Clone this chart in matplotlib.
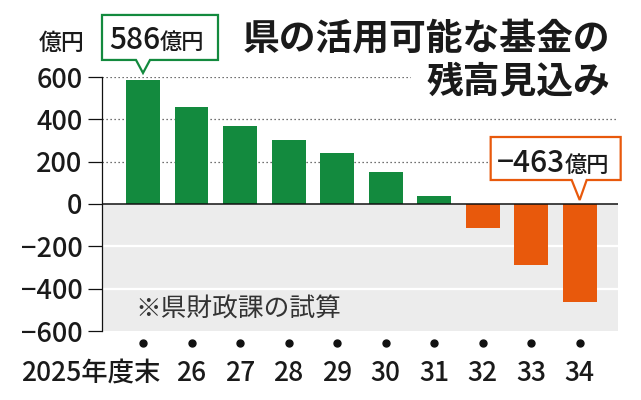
import numpy as np
import matplotlib
matplotlib.use("Agg")
import matplotlib.pyplot as plt
from matplotlib.patches import Polygon
from matplotlib.transforms import Affine2D, IdentityTransform

plt.rcParams['font.family'] = ['Noto Sans CJK JP', 'DejaVu Sans']

# ---- data ----
categories = ["2025年度末", "26", "27", "28", "29", "30", "31", "32", "33", "34"]
values = [586, 457, 367, 302, 239, 151, 36, -115, -288, -463]
yticks = [-600, -400, -200, 0, 200, 400, 600]
title_line1 = "県の活用可能な基金の"
title_line2 = "残高見込み"
unit_label = "億円"
note = "※県財政課の試算"

GREEN = "#138a3e"
ORANGE = "#e8590c"
TXT = "#1a1a1a"
NUMW = "medium"

fig = plt.figure(figsize=(6.41, 4.0), dpi=100)
W, H = 641, 400
ax = fig.add_axes([102 / W, 69 / H, 516 / W, 254 / H])

x = np.arange(len(values))
colors = [GREEN if v >= 0 else ORANGE for v in values]

ax.axhspan(-600, 0, color="#ececec", zorder=0, lw=0)
for t in yticks:
    if t < 0 and t > -600:
        ax.axhline(t, color="white", lw=1.6, zorder=0.5)
    elif t > 0:
        ax.axhline(t, color="#444444", lw=0.9, ls=(0, (1, 2.2)), zorder=0.5)

ax.bar(x, values, width=0.70, color=colors, zorder=2)
ax.axhline(0, color="#111111", lw=1.1, zorder=3)

ax.set_xlim(-0.845, 9.79)
ax.set_ylim(-600, 600)
ax.set_autoscale_on(False)

for s in ["top", "right", "bottom"]:
    ax.spines[s].set_visible(False)
ax.spines["left"].set_linewidth(0.9)
ax.spines["left"].set_color("#111111")

ax.set_yticks(yticks)
ax.set_yticklabels([str(t).replace("-", "\u2212") for t in yticks],
                   fontweight=NUMW)
ax.tick_params(axis="y", length=10, width=0.9, pad=4, labelsize=19.5,
               colors="#111111", labelcolor=TXT)
ax.set_xticks([])

# dots and category labels
xt = ax.get_xaxis_transform()
ax.plot(x, np.full(len(x), -0.047), "o", color="#111111", ms=5,
        transform=xt, clip_on=False)
for i, lab in enumerate(categories):
    if i == 0:
        ax.annotate(lab, xy=(i, -0.195), xycoords=xt, xytext=(17, 0),
                    textcoords="offset pixels", ha="right", va="baseline",
                    fontsize=19, color=TXT, fontweight=NUMW,
                    annotation_clip=False)
    else:
        ax.text(i, -0.195, lab, transform=xt, ha="center", va="baseline",
                fontsize=19, color=TXT, fontweight=NUMW, clip_on=False)

ax.text(0.064, 0.083, note, transform=ax.transAxes, ha="left", va="center",
        fontsize=18.5, color="#333333")

# unit label
fig.text(84 / W, 1 - 43 / H, unit_label, ha="right", va="center",
         fontsize=16.5, color=TXT, fontweight=NUMW)

# titles (line 2 first so line 1 draws over its background box)
fig.text(610 / W, 1 - 82.5 / H, title_line2, ha="right", va="center",
         fontsize=26.5, fontweight="bold", color=TXT,
         bbox=dict(fc="white", ec="none", pad=11))
fig.text(610 / W, 1 - 39.5 / H, title_line1, ha="right", va="center",
         fontsize=26.5, fontweight="bold", color=TXT)


def callout(i, anchor, gap, box, base, num, unit, split, baseline, color):
    tx, ty = ax.transData.transform((i, anchor))
    ty += gap
    x0, x1, y0, y1 = box
    b0, b1 = base
    verts = [(b0, y0), (0, 0), (b1, y0), (x1, y0), (x1, y1), (x0, y1), (x0, y0)]
    poly = Polygon(verts, closed=True, fc="white", ec=color, lw=1.6,
                   joinstyle="miter",
                   transform=Affine2D().translate(tx, ty))
    poly.set_zorder(5)
    fig.add_artist(poly)
    fig.text(tx + split, ty + baseline, num, transform=IdentityTransform(),
             ha="right", va="baseline", fontsize=21.5, color=TXT,
             fontweight=NUMW, zorder=6)
    fig.text(tx + split, ty + baseline, unit, transform=IdentityTransform(),
             ha="left", va="baseline", fontsize=16, color=TXT,
             fontweight=NUMW, zorder=6)


callout(0, values[0], 7, (-41, 75, 13, 58), (-7, 7),
        f"{values[0]}", "億円", 17, 24, GREEN)
callout(len(values) - 1, 0, 4, (-89, 41, 20, 63), (-8, 7),
        f"{values[-1]}".replace("-", "\u2212"), "億円", -15, 28, ORANGE)

fig.savefig("out.png", dpi=100)
